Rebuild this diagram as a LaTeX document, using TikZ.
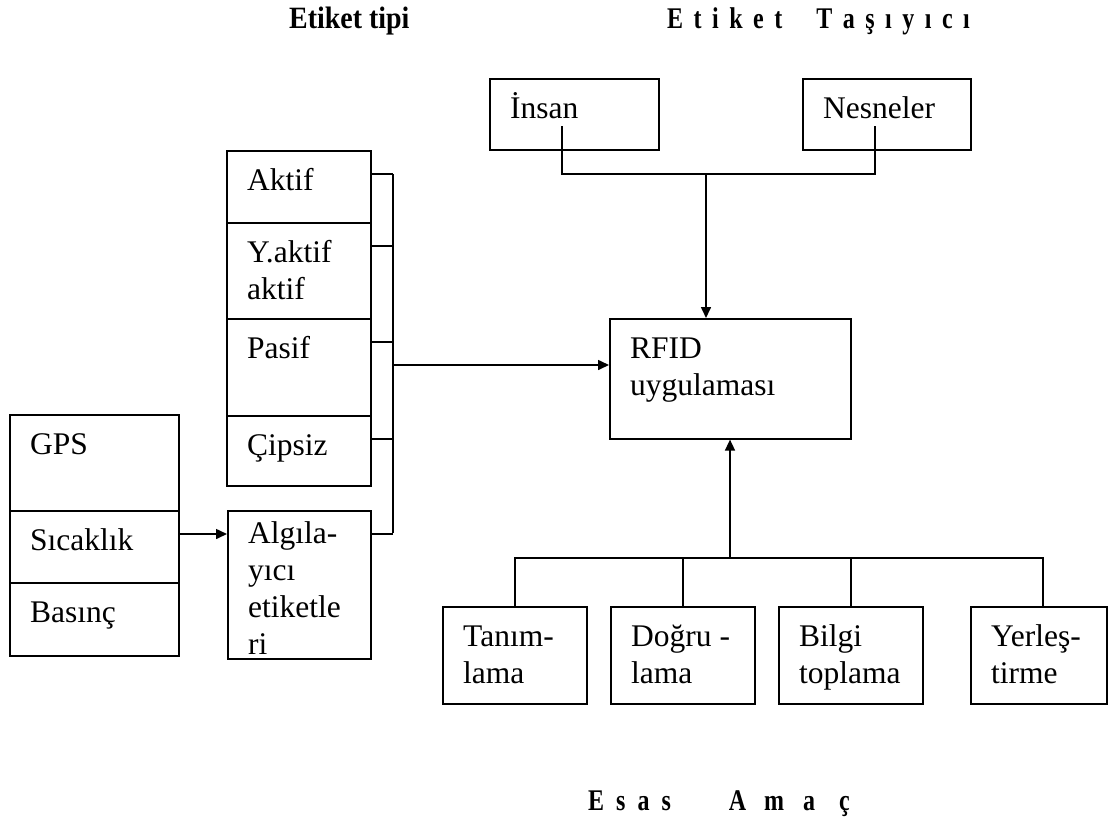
\documentclass[tikz,border=0pt]{standalone}
\usepackage{fontspec}
\setmainfont{Liberation Serif}
\newfontfamily\ttlfont{Liberation Serif}[FakeStretch=0.8]
\newfontfamily\ttlfontb{Liberation Serif}[FakeStretch=0.9]
\usetikzlibrary{arrows.meta}
\newcommand\diabox[7][-10pt]{%
  \node[box, minimum width={#5-#3}, minimum height={#6-#4}] (#2) at (#3,#4) {};
  \node[txt] (#2-t) at ([shift={(21pt,#1)}]#2.north west) {\rule{0pt}{30pt}#7};}
\newcommand\gp[1]{\hspace{#1pt}}
\begin{document}
\begin{tikzpicture}[x=1pt,y=-1pt,
  box/.style={draw, line width=1.6pt, inner sep=0pt, anchor=north west},
  txt/.style={anchor=north west, inner sep=0pt, align=left, font=\fontsize{31.5}{37}\selectfont},
  ttl/.style={anchor=base west, inner sep=0pt, font=\fontsize{30}{34}\selectfont\ttlfont\bfseries},
  conn/.style={line width=1.6pt},
  arr/.style={conn, -{Triangle[length=11pt,width=10pt]}}]
\useasboundingbox (0,0) rectangle (1108,825);
% titles
\node[ttl, font=\fontsize{31}{34}\selectfont\ttlfontb\bfseries] (t1) at (289,28) {Etiket tipi};
\node[ttl] (t2) at (667,28) {E\gp{10.5}t\gp{10.5}i\gp{10.5}k\gp{10.5}e\gp{10.5}t\gp{34}T\gp{10.5}a\gp{10.5}ş\gp{10.5}ı\gp{10.5}y\gp{10.5}ı\gp{10.5}c\gp{10.5}ı};
\node[ttl] (t3) at (588,810) {E\gp{12}s\gp{12}a\gp{12}s\gp{58}A\gp{18}m\gp{19}a\gp{24}ç};
% boxes
\diabox{aktif}{226}{150}{370}{222}{Aktif}
\diabox{yaktif}{226}{222}{370}{318}{Y.aktif\\aktif}
\diabox{pasif}{226}{318}{370}{415}{Pasif}
\diabox{cipsiz}{226}{415}{370}{485}{Çipsiz}
\diabox[-3pt]{alg}{227}{510}{370}{658}{\fontsize{31.5}{35}\selectfont Algıla-\\yıcı\\etiketle\\ri}
\diabox{gps}{9}{414}{178}{510}{GPS}
\diabox{sicaklik}{9}{510}{178}{582}{Sıcaklık}
\diabox{basinc}{9}{582}{178}{655}{Basınç}
\diabox{insan}{489}{78}{658}{149}{İnsan}
\diabox{nesneler}{802}{78}{970}{149}{Nesneler}
\diabox{rfid}{609}{318}{850}{438}{RFID\\uygulaması}
\diabox{tanim}{442}{606}{586}{703}{Tanım-\\lama}
\diabox{dogru}{610}{606}{754}{703}{Doğru -\\lama}
\diabox{bilgi}{778}{606}{922}{703}{Bilgi\\toplama}
\diabox{yerles}{970}{606}{1106}{703}{Yerleş-\\tirme}
% tag type bus
\coordinate (bt) at (393,174);
\coordinate (bb) at (393,533);
\coordinate (bm) at (393,365);
\draw[conn] (bt) -- (bb);
\foreach \n in {aktif,yaktif,pasif,cipsiz,alg}
  \draw[conn] ([yshift=-24pt]\n.north east) -- ([yshift=-24pt]\n.north east -| bt);
\draw[arr] (bm) -- (bm -| rfid.west);
% sensor arrow
\draw[arr] ([yshift=-24pt]sicaklik.north east) -- ([yshift=-24pt]sicaklik.north east -| alg.west);
% carrier
\coordinate (ti) at (706,174);
\draw[conn] ([shift={(73pt,-48pt)}]insan.north west) |- (ti) -| ([shift={(73pt,-48pt)}]nesneler.north west);
\draw[arr] (ti) -- (ti |- rfid.north);
% purpose
\coordinate (bh) at (730,558);
\draw[arr] (bh) -- (bh |- rfid.south);
\draw[conn] (tanim.north) |- (bh) -| ([xshift=73pt]yerles.north west);
\draw[conn] (dogru.north) -- (dogru.north |- bh);
\draw[conn] (bilgi.north) -- (bilgi.north |- bh);
\end{tikzpicture}
\end{document}
